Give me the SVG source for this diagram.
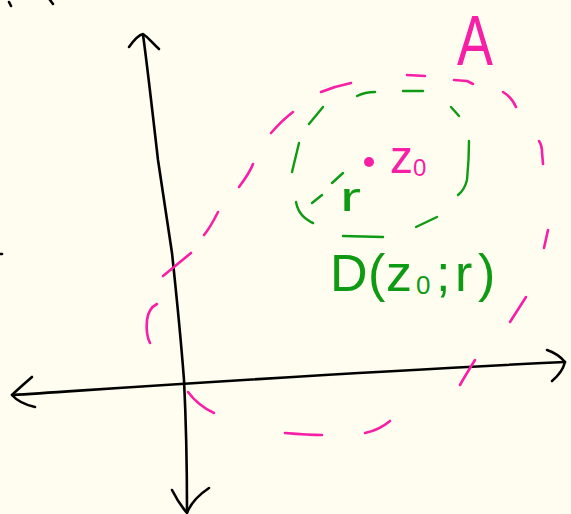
<svg xmlns="http://www.w3.org/2000/svg" width="571" height="514" viewBox="0 0 571 514">
<style>
.ax{fill:none;stroke:#000;stroke-width:2.6;stroke-linecap:round;stroke-linejoin:round}
.pk{fill:none;stroke:#f81ea6;stroke-width:2.6;stroke-linecap:round;stroke-linejoin:round}
.gr{fill:none;stroke:#0f9a14;stroke-width:2.4;stroke-linecap:round;stroke-linejoin:round}
.tp{fill:#f81ea6;font-family:"Liberation Sans",Arial,sans-serif}
.tg{fill:#0f9a14;font-family:"Liberation Sans",Arial,sans-serif}
</style>
<rect width="571" height="514" fill="#fffdef"/>
<g id="marks">
<path class="ax" d="M9,2 L11,6"/>
<path class="ax" d="M50,0 L53,4"/>
<path class="ax" d="M0,254 L2,254"/>
</g>
<g id="axes">
<path class="ax" d="M143,35 C146,55 150,90 158,160 C163,195 168,225 172,253 C177,300 181,340 184,380 C186,420 187,470 187,512"/>
<path class="ax" d="M129,47 C134,40 138,35 143,34 C149,38 153,44 159,49"/>
<path class="ax" d="M172,490 C176,498 181,506 187,513 C190,505 197,496 209,488"/>
<path class="ax" d="M12,395 C150,386 350,372 565,362"/>
<path class="ax" d="M32,377 C24,384 17,390 12,395 C18,402 26,405 35,407"/>
<path class="ax" d="M547,350 C553,352 560,356 565,362 C563,370 558,376 552,381"/>
</g>
<g id="setA">
<path class="pk" d="M157,304 C151,307 148,312 147,320 C146,330 147,337 150,343"/>
<path class="pk" d="M163,276 L191,253"/>
<path class="pk" d="M204,235 C210,228 214,220 218,212"/>
<path class="pk" d="M239,187 C245,179 250,172 253,164"/>
<path class="pk" d="M271,133 C278,125 285,118 293,112"/>
<path class="pk" d="M321,92 C331,88 341,85 351,83"/>
<path class="pk" d="M407,75 L425,76"/>
<path class="pk" d="M454,80 L467,81 L473,84"/>
<path class="pk" d="M503,92 C508,95 513,100 516,107"/>
<path class="pk" d="M539,141 C541,144 542,148 542,152 L543,164"/>
<path class="pk" d="M548,230 L544,248"/>
<path class="pk" d="M526,297 L510,322"/>
<path class="pk" d="M475,360 C470,368 465,376 460,385"/>
<path class="pk" d="M365,433 C375,431 384,426 390,421"/>
<path class="pk" d="M285,433 C297,434 309,435 322,435"/>
<path class="pk" d="M188,392 C194,400 201,407 214,413"/>
<text class="tp" x="457" y="65" font-size="70" textLength="36" lengthAdjust="spacingAndGlyphs">A</text>
</g>
<g id="center">
<circle cx="369" cy="162" r="5" fill="#f81ea6"/>
<text class="tp" x="390" y="173" font-size="46">z<tspan font-size="24" dy="3">0</tspan></text>
</g>
<g id="disc">
<path class="gr" d="M299,143 L292,172"/>
<path class="gr" d="M309,124 L323,107"/>
<path class="gr" d="M357,96 C361,94 367,92 375,92"/>
<path class="gr" d="M403,91 L423,91"/>
<path class="gr" d="M451,107 L459,116"/>
<path class="gr" d="M469,141 C469,155 468,170 467,180 C465,188 462,192 458,195"/>
<path class="gr" d="M296,202 C297,208 299,213 305,218 C308,220 310,222 313,223"/>
<path class="gr" d="M312,203 L322,195"/>
<path class="gr" d="M332,183 L343,173"/>
<path class="gr" d="M343,236 L383,237"/>
<path class="gr" d="M416,227 L437,217"/>
<text class="tg" x="340" y="211" font-size="40" textLength="21" lengthAdjust="spacingAndGlyphs">r</text>
<text class="tg" y="291" font-size="52"><tspan x="330">D</tspan><tspan x="368">(</tspan><tspan x="386">z</tspan><tspan x="416" font-size="26" dy="3">0</tspan><tspan x="436" dy="-3">;</tspan><tspan x="455">r</tspan><tspan x="478">)</tspan></text>
</g>
</svg>
